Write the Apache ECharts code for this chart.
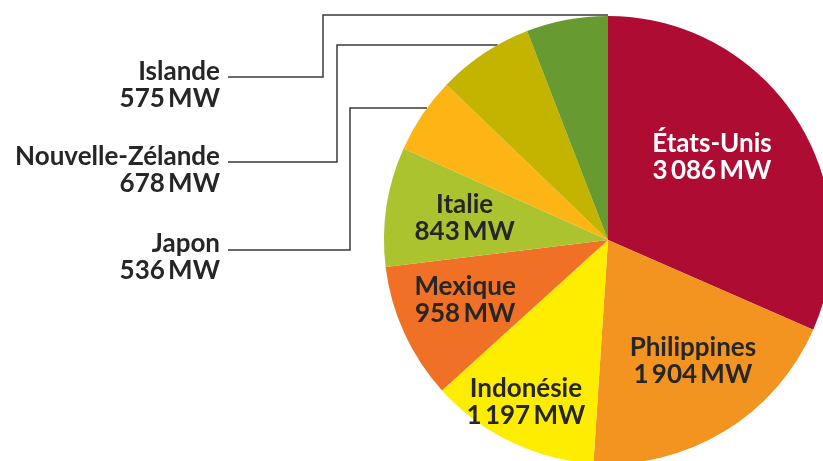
<!DOCTYPE html>
<html>
<head>
<meta charset="utf-8">
<script src="https://cdn.jsdelivr.net/npm/echarts@6/dist/echarts.min.js"></script>
<style>
  html, body { margin: 0; padding: 0; background: #fff; }
  #main { width: 823px; height: 461px; }
</style>
</head>
<body>
<div id="main"></div>
<script>
// puissance géothermique installée, par pays
var countries = ['États-Unis', 'Philippines', 'Indonésie', 'Mexique', 'Italie', 'Japon', 'Nouvelle-Zélande', 'Islande'];
var capacityMW = [3086, 1904, 1197, 958, 843, 536, 678, 575];
var sliceColors = ['#ae0c32', '#f39420', '#ffed00', '#f07026', '#aac32f', '#fdb415', '#c3b400', '#679a30'];

var cx = 608, cy = 240, R = 224;

// labels inside the slices: [angle clockwise from top, distance from centre]
var insidePolar = { 0: [51.4, 133], 1: [145, 148], 2: [206.8, 182], 3: [247.2, 155], 4: [278.7, 145] };
// labels on the left with elbow lines
var leaders = {
  5: { labelY: 257, lineY: 250, elbowX: 350, topY: 108 },
  6: { labelY: 170, lineY: 162, elbowX: 337, topY: 45 },
  7: { labelY: 85, lineY: 77, elbowX: 323, topY: 15 }
};

function fmt(v) {
  return String(v).replace(/\B(?=(\d{3})+(?!\d))/g, '\u2009');
}

var chart = echarts.init(document.getElementById('main'));

var pieData = countries.map(function (name, i) {
  var outside = leaders[i] != null;
  return {
    name: name,
    value: capacityMW[i],
    itemStyle: { color: sliceColors[i] },
    label: {
      position: outside ? 'outside' : 'inside',
      color: i === 0 ? '#ffffff' : '#262626'
    },
    labelLine: { show: outside }
  };
});

chart.setOption({
  animation: false,
  series: [
    {
      type: 'pie',
      center: [cx, cy],
      radius: R,
      startAngle: 90,
      clockwise: true,
      avoidLabelOverlap: false,
      silent: true,
      data: pieData,
      label: {
        show: true,
        formatter: function (p) { return p.name + '\n' + fmt(p.value) + '\u2009MW'; },
        fontFamily: 'Lato',
        fontWeight: 'bold',
        fontSize: 26,
        lineHeight: 27
      },
      labelLine: {
        lineStyle: { color: '#3a3a3a', width: 1.5 }
      },
      labelLayout: function (params) {
        var i = params.dataIndex;
        var lead = leaders[i];
        if (lead) {
          var dy = lead.topY - cy;
          var endX = cx - Math.sqrt(Math.max(R * R - dy * dy, 0));
          return {
            x: 220,
            y: lead.labelY,
            align: 'right',
            verticalAlign: 'middle',
            labelLinePoints: [
              [228, lead.lineY],
              [lead.elbowX, lead.lineY],
              [lead.elbowX, lead.topY],
              [endX, lead.topY]
            ]
          };
        }
        var pol = insidePolar[i];
        var a = pol[0] * Math.PI / 180;
        return {
          x: cx + pol[1] * Math.sin(a),
          y: cy - pol[1] * Math.cos(a),
          align: 'center',
          verticalAlign: 'middle'
        };
      }
    }
  ]
});
</script>
</body>
</html>
